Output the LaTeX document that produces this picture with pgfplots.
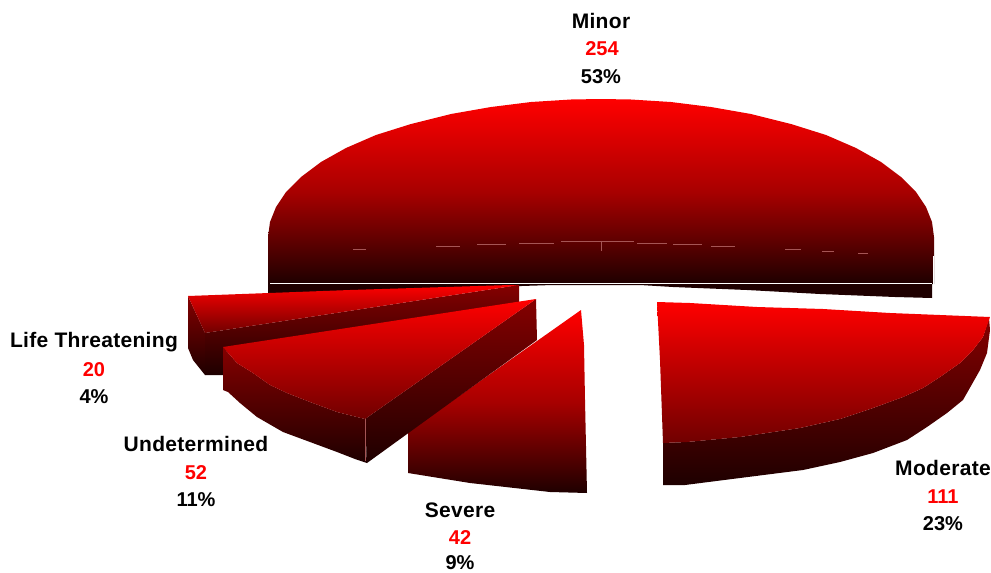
\documentclass[border=0pt]{standalone}
\usepackage{pgfplots}
\pgfplotsset{compat=1.18}
\usepackage{fontspec}
\setmainfont{Liberation Sans}
\newfontfamily\wordfont[LetterSpace=1.5]{Liberation Sans}
\definecolor{dk}{HTML}{1E0000}
\definecolor{sd}{HTML}{850000}
\definecolor{fc}{HTML}{700000}
\definecolor{fa}{HTML}{A55555}
\definecolor{md}{HTML}{A80000}
\tikzset{lab/.style={font=\fontsize{21}{24}\wordfont\bfseries, anchor=center, inner sep=0pt},
 num/.style={font=\fontsize{20}{24}\selectfont\bfseries, anchor=center, inner sep=0pt}}
\begin{document}
\begin{tikzpicture}
\begin{axis}[
  at={(0,0)}, anchor=south west,
  scale only axis, width=991pt, height=573pt,
  xmin=0, xmax=991, ymin=0, ymax=573, y dir=reverse,
  hide axis, clip=false,
  faint/.style={draw=fa, line width=0.7pt, no markers},
  body/.style={draw=none, no markers},
]
\path (rel axis cs:0,0) rectangle (rel axis cs:1,1);
% Minor: rim below the white line
\addplot[body, fill=dk] coordinates {(268,283)(932,283)(932,298)(895,297)(820,294)(747,290)(673,287)(640,285)(553,285)(300,293)(268,295)(268,283)};
% Minor: body
\addplot[body, top color=red, bottom color=dk, middle color=md] coordinates {
(268,284)(268,237)(270,222)(276,207)(286,192)(301,177)(321,162)(346,148)(376,135)(411,124)(451,114)(491,107)(531,102)(571,99.5)(601,99)
(631,99.5)(671,102)(711,107)(751,114)(791,124)(826,135)(856,148)(881,162)(901,177)(916,192)(926,207)(932,222)(934,237)(934,284)(268,284)};
\addplot[draw=white, line width=1pt, no markers] coordinates {(270,283)(932,283)};
\addplot[draw=white, line width=1pt, no markers] coordinates {(933,256)(933,290)};
% Minor: faint edge of the top face
\addplot[faint] coordinates {(353,249)(366,249)};
\addplot[faint] coordinates {(436,246)(460,246)};
\addplot[faint] coordinates {(477,244)(506,244)};
\addplot[faint] coordinates {(519,243)(554,243)};
\addplot[faint] coordinates {(561,241)(634,241)};
\addplot[faint] coordinates {(637,243)(667,243)};
\addplot[faint] coordinates {(673,244)(702,244)};
\addplot[faint] coordinates {(711,246)(735,246)};
\addplot[faint] coordinates {(785,249)(801,249)};
\addplot[faint] coordinates {(822,251)(834,251)};
\addplot[faint] coordinates {(858,253)(868,253)};
\addplot[faint] coordinates {(601,241)(601,251)};
% Moderate
\addplot[body, top color=sd, bottom color=dk] coordinates {
(989,318)(983,337)(973,350)(960,363)(940,377)(923,388)(903,397)(873,408)(840,419)(800,428)(740,437)(687,442)(663,443)
(663,485)(685,485)(740,478)(803,470)(840,462)(873,453)(907,440)(927,427)(947,413)(963,400)(980,370)(987,353)(990,330)(989,318)};
\addplot[body, top color=red, bottom color=fc] coordinates {
(657,302)(690,303)(757,307)(823,309)(890,313)(990,317)(983,337)(973,350)(960,363)(940,377)(923,388)(903,397)(873,408)(840,419)(800,428)(740,437)(687,442)(663,443)(660,360)(657,302)};
% Severe
\addplot[body, top color=red, bottom color=dk, middle color=md] coordinates {
(581,310)(584,345)(585,400)(587,493)(550,492)(470,483)(408,473)(408,432)(581,310)};
% Life Threatening
\addplot[body, top color=sd, bottom color=dk] coordinates {
(188,296)(205,333)(205,375)(193,360)(188,348)(188,296)};
\addplot[body, top color=sd, bottom color=dk] coordinates {
(205,333)(519,285)(519,302)(226,351)(223,375)(205,375)(205,333)};
\addplot[body, top color=red, bottom color=fc] coordinates {
(188,296)(350,290)(510,285)(519,285)(205,333)(188,296)};
% Undetermined
\addplot[body, top color=sd, bottom color=dk] coordinates {
(223,347)(237,363)(253,373)(270,385)(287,393)(310,402)(337,412)(365,419)(367,463)(355,459)(337,452)(310,442)(283,432)(257,417)(240,403)(228,392)(223,390)(223,347)};
\addplot[body, top color=sd, bottom color=dk] coordinates {
(365,419)(536,299)(537,340)(367,463)(365,419)};
\addplot[body, top color=red, bottom color=fc] coordinates {
(223,347)(536,299)(365,419)(337,412)(310,402)(287,393)(270,385)(253,373)(237,363)(223,347)};
\addplot[draw=fa, line width=0.5pt, no markers] coordinates {(365,419)(365,461)};
% Labels
\node[lab] at (axis cs:601,21) {Minor};
\node[num, text=red] at (axis cs:602,48.5) {254};
\node[num] at (axis cs:601,76.5) {53\%};
\node[lab] at (axis cs:94,342) {Life Threatening};
\node[num, text=red] at (axis cs:94,369.5) {20};
\node[num] at (axis cs:94,396.5) {4\%};
\node[lab] at (axis cs:196,444) {Undetermined};
\node[num, text=red] at (axis cs:196,472.5) {52};
\node[num] at (axis cs:196,499.5) {11\%};
\node[lab] at (axis cs:460,510) {Severe};
\node[num, text=red] at (axis cs:460,537.5) {42};
\node[num] at (axis cs:460,563) {9\%};
\node[lab] at (axis cs:943,468) {Moderate};
\node[num, text=red] at (axis cs:943,496.5) {111};
\node[num] at (axis cs:943,523.5) {23\%};
\end{axis}
\end{tikzpicture}
\end{document}
